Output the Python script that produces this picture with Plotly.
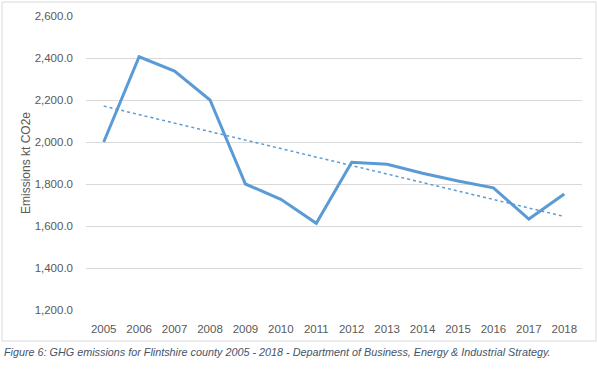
import numpy as np
import plotly.graph_objects as go

years = ["2005", "2006", "2007", "2008", "2009", "2010", "2011",
         "2012", "2013", "2014", "2015", "2016", "2017", "2018"]
emissions = [2000, 2406, 2338, 2200, 1800, 1727, 1613,
             1903, 1894, 1851, 1814, 1782, 1633, 1752]
y_ticks = [1200, 1400, 1600, 1800, 2000, 2200, 2400, 2600]

idx = np.arange(len(years))
slope, intercept = np.polyfit(idx, emissions, 1)
trend = list(slope * idx + intercept)

fig = go.Figure()
fig.add_trace(go.Scatter(x=years, y=emissions, mode="lines",
                         line=dict(color="#5b9bd5", width=3), showlegend=False))
fig.add_trace(go.Scatter(x=years, y=trend, mode="lines",
                         line=dict(color="#5b9bd5", width=1.5, dash="dot"), showlegend=False))

L, R, T, B = 86, 16, 16, 71
PW, PH = 598 - L - R, 381 - T - B

fig.update_layout(
    width=598, height=381,
    margin=dict(l=L, r=R, t=T, b=B, autoexpand=False),
    paper_bgcolor="white", plot_bgcolor="white",
    font=dict(family="Liberation Sans, Arial, sans-serif", color="#595959", size=11),
    xaxis=dict(type="category", range=[-0.5, len(years) - 0.5],
               showgrid=False, showline=False, ticks="", automargin=False,
               ticklabelstandoff=10,
               tickfont=dict(size=11.5, color="#595959")),
    yaxis=dict(range=[1200, 2600], tickvals=y_ticks, tickformat=",.1f",
               showgrid=True, gridcolor="#d9d9d9", gridwidth=1, zeroline=False,
               showline=False, ticks="", automargin=False,
               ticklabelstandoff=12,
               tickfont=dict(size=11.5, color="#595959")),
    shapes=[dict(type="rect", xref="paper", yref="paper",
                 x0=(2 - L) / PW, x1=(596 - L) / PW,
                 y0=-(341 - (T + PH)) / PH, y1=((T + PH) - 2) / PH,
                 line=dict(color="#d9d9d9", width=1))],
    annotations=[
        dict(text="Emissions kt CO2e", textangle=-90,
             xref="paper", yref="paper", x=(26 - L) / PW, y=0.5,
             xanchor="center", yanchor="middle", showarrow=False,
             font=dict(size=12, color="#595959")),
        dict(text="<i>Figure 6: GHG emissions for Flintshire county 2005 - 2018 - Department of Business, Energy &amp; Industrial Strategy.</i>",
             xref="paper", yref="paper", x=(2 - L) / PW, y=-(352 - (T + PH)) / PH,
             xanchor="left", yanchor="middle", showarrow=False,
             font=dict(size=10.8, color="#44546a")),
    ],
)

fig.write_html("out.html", config={"displayModeBar": False},
               post_script="document.body.style.margin='0';")
